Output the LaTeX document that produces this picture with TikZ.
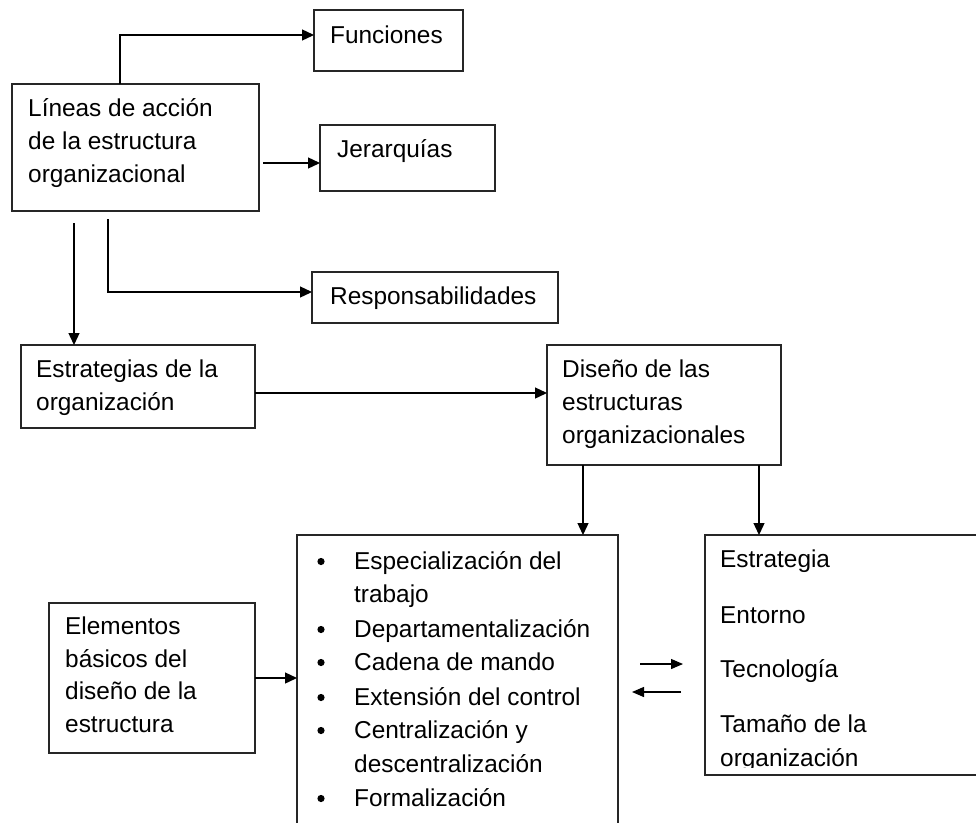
\documentclass[tikz,border=0pt]{standalone}
\usepackage{fontspec}
\setmainfont{Liberation Sans}
\usetikzlibrary{arrows.meta}
\begin{document}
\begin{tikzpicture}[x=1pt,y=-1pt,
  box/.style={draw=black!85, line width=1.3pt, inner sep=0pt, outer sep=0pt, anchor=north west},
  txt/.style={inner sep=0pt, anchor=base west, font=\fontsize{24.4}{33}\selectfont},
  arr/.style={draw=black, line width=1.3pt, -{Triangle[length=12pt,width=11pt]}},
  sarr/.style={draw=black, line width=1.3pt, -{Triangle[length=12pt,width=10pt]}}]
\useasboundingbox (0,0) rectangle (976,822);
\clip (0,0) rectangle (976,822);
\fill[white] (0,0) rectangle (976,822);
% boxes
\node[box, minimum width=149pt, minimum height=61pt] (fun) at (314,10) {};
\node[box, minimum width=247pt, minimum height=127pt] (lin) at (12,84) {};
\node[box, minimum width=175pt, minimum height=66pt] (jer) at (320,125) {};
\node[box, minimum width=246pt, minimum height=51pt] (resp) at (312,272) {};
\node[box, minimum width=234pt, minimum height=83pt] (estr) at (21,345) {};
\node[box, minimum width=234pt, minimum height=120pt] (dis) at (547,345) {};
\node[box, minimum width=321pt, minimum height=320pt] (mid) at (297,535) {};
\node[box, minimum width=300pt, minimum height=240pt] (rgt) at (705,535) {};
\node[box, minimum width=206pt, minimum height=150pt] (elem) at (49,603) {};
% texts
\node[txt] (t1) at (330,43) {Funciones};
\node[txt] (t2) at (28,116) {Líneas de acción};
\node[txt] (t3) at (28,149) {de la estructura};
\node[txt] (t4) at (28,182) {organizacional};
\node[txt] (t5) at (337,157) {Jerarquías};
\node[txt] (t6) at (330,304) {Responsabilidades};
\node[txt] (t7) at (36,377) {Estrategias de la};
\node[txt] (t8) at (36,410) {organización};
\node[txt] (t9) at (562,377) {Diseño de las};
\node[txt] (t10) at (562,410) {estructuras};
\node[txt] (t11) at (562,443) {organizacionales};
\node[txt] (l1) at (354,569) {Especialización del};
\node[txt] (l2) at (354,602) {trabajo};
\node[txt] (l3) at (354,637) {Departamentalización};
\node[txt] (l4) at (354,670) {Cadena de mando};
\node[txt] (l5) at (354,705) {Extensión del control};
\node[txt] (l6) at (354,738) {Centralización y};
\node[txt] (l7) at (354,772) {descentralización};
\node[txt] (l8) at (354,806) {Formalización};
\foreach \yy in {569,637,670,705,738,806} \fill (321,\yy-7.5) circle (3.6pt);
\node[txt] (r1) at (720,567) {Estrategia};
\node[txt] (r2) at (720,623) {Entorno};
\node[txt] (r3) at (720,677) {Tecnología};
\node[txt] (r4) at (720,732) {Tamaño de la};
\begin{scope}
\clip (700,700) rectangle (976,767.5);
\node[txt] (r5) at (720,766) {organización};
\end{scope}
\node[txt] (e1) at (65,634) {Elementos};
\node[txt] (e2) at (65,667) {básicos del};
\node[txt] (e3) at (65,699) {diseño de la};
\node[txt] (e4) at (65,732) {estructura};
% connectors
\coordinate (f0) at ([xshift=108pt]lin.north west);
\draw[arr] (f0) |- ([yshift=5.5pt]fun.west);
\coordinate (j0) at (263,163);
\draw[arr] (j0) -- (j0 -| jer.west);
\coordinate (r0) at (108,219);
\draw[arr] (r0) |- ([yshift=5.5pt]resp.west);
\coordinate (e0) at (74,223);
\draw[arr] (e0) -- (e0 |- estr.north);
\coordinate (s0) at ([yshift=-6.5pt]estr.east);
\draw[arr] (s0) -- (s0 -| dis.west);
\coordinate (d1) at ([xshift=36pt]dis.south west);
\draw[arr] (d1) -- (d1 |- mid.north);
\coordinate (d2) at ([xshift=212pt]dis.south west);
\draw[arr] (d2) -- (d2 |- rgt.north);
\draw[arr] (elem.east) -- (elem.east -| mid.west);
\coordinate (a1) at (640,664);
\coordinate (a2) at (683,664);
\coordinate (b1) at (681,692);
\coordinate (b2) at (632,692);
\draw[sarr] (a1) -- (a2);
\draw[sarr] (b1) -- (b2);
\end{tikzpicture}
\end{document}
